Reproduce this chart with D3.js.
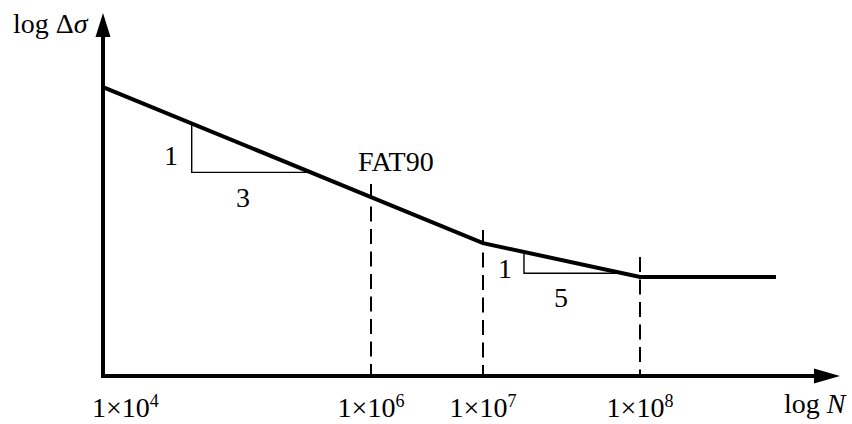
<!DOCTYPE html>
<html>
<head>
<meta charset="utf-8" />
<title>S-N curve</title>
<script src="https://cdn.jsdelivr.net/npm/d3@7"></script>
<style>
  body { margin: 0; background: #fff; }
  svg text { font-family: "Liberation Serif", "Times New Roman", Times, serif; fill: #000; }
  .curve { fill: none; stroke: #000; stroke-width: 4px; }
  .guide { fill: none; stroke: #000; stroke-width: 2px; stroke-dasharray: 15 7.5; }
  .slope { fill: none; stroke: #000; stroke-width: 1.4px; }
  .axis { stroke: #000; stroke-width: 4px; }
</style>
</head>
<body>
<div id="chart"></div>
<script>
// curve knots: log N and log stress range (schematic units)
var curveN = [4, 6, 7, 8, 8.866]
var curveS = [7.96, 4.93, 3.66, 2.73, 2.73]

// dashed guides at the marked cycle counts
var guideN = [6, 7, 8]
var guideTop = [5.29, 4.02, 3.28]

// tick labels on the N axis
var tickN = [4, 6, 7, 8]
var tickExp = ["4", "6", "7", "8"]

// slope triangles: [x start, x end, top, corner]
var slopeTri = [
  [4.662, 5.557, 6.97, 5.61],
  [7.261, 7.873, 3.38, 2.83]
]
var slopeText = ["1", "3", "1", "5"]
var slopeTextN = [4.507, 5.045, 7.14, 7.497]
var slopeTextS = [5.81, 4.66, 2.70, 1.91]

var fatLabel = "FAT90"
var fatN = 5.903, fatS = 5.65

var width = 852, height = 424
var fontSize = 28, supSize = 18

// non-uniform log N axis, as drawn in the sketch
var x = d3.scaleLinear().domain([4, 6, 7, 8]).range([103, 371, 483, 640])
var y = d3.scaleLinear().domain([0, 10]).range([376, 13])

var svg = d3.select("#chart").append("svg")
  .attr("width", width)
  .attr("height", height)

// dashed guides
svg.selectAll(".guide")
  .data(guideN)
  .enter().append("line")
  .attr("class", "guide")
  .attr("x1", function(d) { return x(d) })
  .attr("x2", function(d) { return x(d) })
  .attr("y1", function(d, i) { return y(guideTop[i]) })
  .attr("y2", y(0))

// S-N curve
var line = d3.line()
  .x(function(d, i) { return x(curveN[i]) })
  .y(function(d) { return y(d) })

svg.append("path")
  .datum(curveS)
  .attr("class", "curve")
  .attr("stroke-linejoin", "miter")
  .attr("d", line)

// slope triangles
svg.selectAll(".slope")
  .data(slopeTri)
  .enter().append("path")
  .attr("class", "slope")
  .attr("d", function(d) {
    return d3.line()([[x(d[0]), y(d[2])], [x(d[0]), y(d[3])], [x(d[1]), y(d[3])]])
  })

svg.selectAll(".slopeText")
  .data(slopeText)
  .enter().append("text")
  .attr("class", "slopeText")
  .attr("x", function(d, i) { return x(slopeTextN[i]) })
  .attr("y", function(d, i) { return y(slopeTextS[i]) })
  .attr("text-anchor", "middle")
  .attr("font-size", fontSize)
  .text(function(d) { return d })

svg.append("text")
  .attr("x", x(fatN))
  .attr("y", y(fatS))
  .attr("font-size", fontSize)
  .text(fatLabel)

// axes with arrow heads
var xEnd = 9.274, xHead = 9.108
var yEnd = 10, yHead = 9.34

svg.append("line").attr("class", "axis")
  .attr("x1", x(4)).attr("x2", x(4))
  .attr("y1", y(0) + 2).attr("y2", y(yHead))
svg.append("line").attr("class", "axis")
  .attr("x1", x(4) - 2).attr("x2", x(xHead))
  .attr("y1", y(0)).attr("y2", y(0))

svg.append("path")
  .attr("d", d3.line()([[x(4), y(yEnd)], [x(4) + 7.5, y(yHead)], [x(4) - 7.5, y(yHead)]]) + "Z")
svg.append("path")
  .attr("d", d3.line()([[x(xEnd), y(0)], [x(xHead), y(0) - 7.5], [x(xHead), y(0) + 7.5]]) + "Z")

// tick labels
var ticks = svg.selectAll(".tick")
  .data(tickN)
  .enter().append("text")
  .attr("class", "tick")
  .attr("x", function(d, i) { return i === 0 ? x(d) - 11 : x(d) })
  .attr("y", 417)
  .attr("text-anchor", function(d, i) { return i === 0 ? "start" : "middle" })
  .attr("font-size", fontSize)

ticks.append("tspan").text("1\u00d710")
ticks.append("tspan")
  .attr("dy", -10)
  .attr("font-size", supSize)
  .text(function(d, i) { return tickExp[i] })

// axis titles
var yTitle = svg.append("text")
  .attr("x", 13)
  .attr("y", 33)
  .attr("font-size", fontSize)
yTitle.append("tspan").text("log \u0394")
yTitle.append("tspan").attr("font-style", "italic").text("\u03c3")

var xTitle = svg.append("text")
  .attr("x", 784)
  .attr("y", 413)
  .attr("font-size", fontSize)
xTitle.append("tspan").text("log ")
xTitle.append("tspan").attr("font-style", "italic").text("N")
</script>
</body>
</html>
